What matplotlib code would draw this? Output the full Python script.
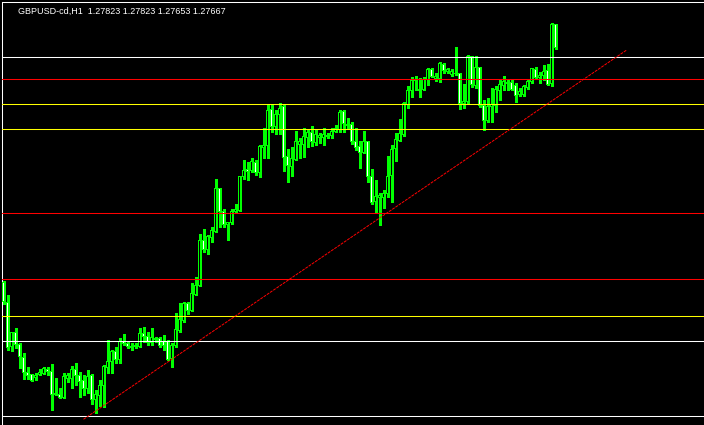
import numpy as np
import matplotlib.pyplot as plt

# H1 candles, price in chart units (higher = up)
symbol = 'GBPUSD-cd,H1'
last_bar = ['1.27823', '1.27823', '1.27653', '1.27667']

opens = [142.7, 122.7, 78.3, 92.7, 80.7, 68, 52.7, 50.7, 47.3, 50.7,
         52, 56, 53.7, 32, 30.7, 27.3, 46.7, 46.7, 55.7, 50,
         44.7, 36.3, 50, 26, 30, 39.7, 57.7, 63.3, 73.3, 66,
         83.3, 81.7, 77.7, 78.3, 78.3, 91.7, 89, 82.3, 85.7, 86.7,
         83.3, 83.3, 66.7, 79.3, 95, 104.3, 121.7, 115, 130.7, 140,
         185, 176, 187.3, 193.3, 236.7, 213.3, 200.7, 202.3, 213.3, 215,
         248.3, 256, 255, 262.7, 252.7, 277.3, 280, 316, 298.3, 310.7,
         318.3, 268.3, 258.3, 265.7, 281, 280.7, 288, 292.7, 282.7, 288,
         287.3, 288.7, 289.3, 293.3, 296, 314, 300.7, 300.7, 284, 278.3,
         272.7, 284, 248.3, 223.3, 227.7, 227.7, 231.7, 249.3, 276.7, 285,
         291, 321, 334.3, 345, 336, 335.7, 345.7, 355.7, 346.3, 346.3,
         361, 353.3, 351, 351.7, 351.7, 321.7, 323.3, 368.3, 340, 357.3,
         319.3, 305, 318.3, 320, 335, 340, 341.7, 342.7, 340, 330.7,
         330.7, 337.3, 343.3, 356, 347.3, 349.3, 355, 341.7, 400.7]

highs = [144, 130, 93, 97.3, 81.7, 71.7, 58, 51.3, 52, 56,
         58, 58, 60.7, 46.7, 36.7, 51.7, 51.7, 59.3, 62, 52.7,
         50, 54.7, 51, 35, 45, 60, 85, 75, 78.3, 86.7,
         91, 83.3, 81.7, 81.7, 96.7, 97.7, 93.3, 96.7, 88.3, 88.3,
         90, 85, 81.7, 111.7, 121.7, 123.3, 123.3, 141.7, 148.3, 190.7,
         196, 190, 198.3, 246, 236.7, 216, 203, 216, 220.7, 249.3,
         265, 263.3, 267.3, 265, 280, 297.3, 320.7, 320, 315, 321.7,
         320, 276, 278.3, 294, 286.7, 297.3, 295, 299.3, 295, 291.7,
         296.7, 292, 296.7, 300, 315, 315, 306.7, 302.7, 296.7, 284,
         294, 284, 256, 245, 232.3, 235, 269, 280, 292.3, 305.7,
         323.3, 339, 347.7, 349, 346.7, 348.3, 356.7, 356.7, 351.7, 363,
         361.7, 356.7, 355.7, 377.7, 351.7, 341, 370, 369.3, 369.3, 358.3,
         325, 326.7, 336.7, 339.3, 345, 349.3, 345, 345, 341.7, 336.7,
         340, 345, 357.3, 358.3, 353.3, 360, 360.7, 401.7, 400.7]

lows = [120.7, 75.3, 74, 77.3, 57.3, 46, 46, 44, 45.3, 50,
        51, 50, 15.3, 30, 26.7, 27, 43.3, 37.3, 40, 28.3,
        30, 32, 21.3, 12, 19, 18.3, 52.3, 52.3, 61.7, 61.7,
        80, 76.7, 75, 76.7, 78, 83.3, 80, 80, 83.3, 78.3,
        75, 65, 58.3, 78.3, 93.3, 103, 110.7, 114, 130, 139.3,
        173.3, 170.7, 183.3, 192.7, 198.3, 198.3, 185, 201, 213, 214.3,
        246, 245, 252.7, 250, 248.3, 266.7, 267.3, 292.7, 290.7, 290.7,
        254, 242.7, 249.3, 265, 267.3, 268.3, 278.3, 279.3, 280, 281.7,
        280, 287.3, 287.3, 292.7, 292.7, 292.7, 296.7, 280.7, 275, 257.3,
        271.7, 242.7, 220.7, 211.7, 200, 216.7, 228.3, 223.3, 264.3, 284.3,
        289, 316.7, 328.3, 335, 327.7, 335, 340, 347.7, 344.3, 343.3,
        351.7, 351.7, 349, 350, 315.7, 316.7, 322, 338.3, 336.7, 318.3,
        295, 303.3, 303.3, 312.7, 325, 335, 335, 335, 322.7, 329.3,
        329.3, 336, 341.7, 346.7, 341.7, 345, 340, 339.3, 375.7]

closes = [123.3, 77.3, 92.7, 80.7, 68.3, 52.3, 50, 44.3, 50, 53,
          56.7, 53.3, 30.7, 30.7, 28, 48.3, 49.3, 55.7, 49.3, 44,
          36.3, 48.7, 25.7, 31, 40, 59, 64, 73.3, 66, 83.3,
          81.7, 78.3, 79, 80, 91.7, 89, 82.3, 87.7, 86.7, 80,
          80, 66, 80, 95.7, 105.7, 121.7, 115, 131.7, 140, 185,
          176, 188.3, 195, 236.7, 213.3, 200.7, 202.7, 214, 215.7, 248.3,
          255, 254, 264, 252.7, 278.3, 280, 315, 298.3, 310.7, 316.7,
          267.3, 259.3, 266.7, 284, 284, 288.3, 292.7, 283.3, 290.7, 290,
          290.7, 290, 293.3, 296.7, 312.7, 301.3, 300, 283.3, 277.3, 272.7,
          284, 248.3, 222.7, 229, 230, 231.7, 249, 275.7, 285.7, 291.7,
          321.7, 335, 345, 346, 334.3, 345.7, 355.7, 348.3, 349, 361.7,
          354.3, 355.7, 354, 351.3, 321.7, 323.3, 369, 340.7, 357.3, 319.3,
          305, 318.3, 320.7, 336, 340.7, 343.3, 342.7, 336, 330, 333.3,
          338.3, 344, 356.7, 347.3, 350, 354, 341, 400.7, 377.3]

# horizontal levels and the trendline drawn on the chart
white_levels = [367.7, 83.7, 8.7]
red_levels = [345.7, 211.7, 145.7]
yellow_levels = [320.7, 295.7, 108.7]
trend_x = [20, 155.8]
trend_y = [5.7, 375]

W, H = 704, 425
fig = plt.figure(figsize=(W / 100, H / 100), dpi=100, facecolor='black')
ax = fig.add_axes([2.3 / W, 0, 1 - 2.3 / W, 1 - 2.3 / H])
ax.set_facecolor('black')
# 4 px per bar, 1 px per price unit
ax.set_xlim(-0.3, 175.125)
ax.set_ylim(0, 422.7)

o = np.array(opens)
c = np.array(closes)
x = np.arange(len(opens))
bull = c >= o
lo = np.minimum(o, c)
hi = np.maximum(o, c)

# wicks, then a green 3px body with a 1px core (black = up bar, white = down bar)
ax.vlines(x, lows, highs, color='#00ff00', lw=0.75, zorder=3, antialiased=False)
ax.bar(x, hi - lo + 1, bottom=lo - 0.5, width=0.75, color='#00ff00',
       linewidth=0, zorder=4, antialiased=False)
ax.bar(x, np.maximum(hi - lo - 1, 0), bottom=lo + 0.5, width=0.25,
       color=np.where(bull, 'black', 'white'), linewidth=0, zorder=5,
       antialiased=False)

for lv in white_levels:
    ax.axhline(lv, color='white', lw=0.75, zorder=6)
for lv in red_levels:
    ax.axhline(lv, color='#ff0000', lw=0.75, zorder=6)
for lv in yellow_levels:
    ax.axhline(lv, color='#ffff00', lw=0.75, zorder=6)

# dotted trendline
ax.plot(trend_x, trend_y, color='#ff0000', lw=0.7, linestyle=(0, (3, 1)),
        zorder=7)

ax.set_xticks([])
ax.set_yticks([])
for side in ['right', 'bottom']:
    ax.spines[side].set_visible(False)
for side in ['left', 'top']:
    ax.spines[side].set_color('white')
    ax.spines[side].set_linewidth(0.75)

fig.text(18 / W, 1 - 14 / H, symbol + '  ' + ' '.join(last_bar),
         color='white', fontsize=6.5, family='Liberation Sans', va='baseline')

fig.savefig('out.png', dpi=100, facecolor='black')
